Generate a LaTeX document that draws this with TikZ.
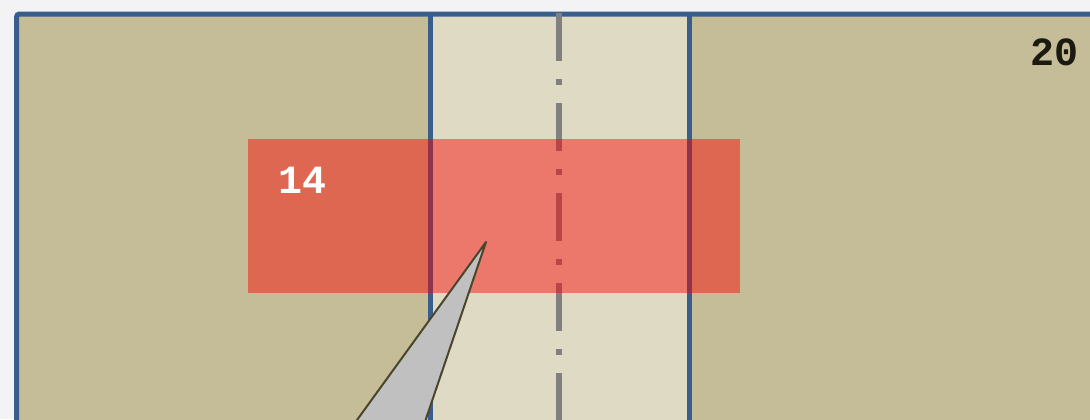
\documentclass[tikz,border=0pt]{standalone}
\usepackage{fontspec}
\setmonofont{Liberation Mono}
\definecolor{bgpage}{RGB}{243,243,245}
\definecolor{fieldtan}{RGB}{196,189,151}
\definecolor{stripbeige}{RGB}{222,218,195}
\definecolor{edgeblue}{RGB}{58,94,140}
\definecolor{axisgray}{RGB}{128,128,128}
\definecolor{pointerfill}{RGB}{192,192,192}
\definecolor{pointerline}{RGB}{74,70,44}
\definecolor{labelink}{RGB}{26,26,16}
\begin{document}
\begin{tikzpicture}[x=0.5pt, y=-0.5pt,
    edge/.style={draw=edgeblue, line width=2.5pt},
    axisline/.style={draw=axisgray, line width=3pt,
      dash pattern=on 24pt off 9pt on 3pt off 9pt},
    zone/.style={fill=red, fill opacity=0.45},
    pointer/.style={fill=pointerfill, draw=pointerline, line width=1pt, line join=round},
    numlabel/.style={font=\ttfamily\bfseries\fontsize{20}{24}\selectfont, inner sep=0pt, anchor=base west}]
    % canvas
    \useasboundingbox (0,0) rectangle (1090,419);
    \clip (0,0) rectangle (1090,419);
    \fill[bgpage] (0,0) rectangle (1090,419);
    % field and middle strip
    \fill[fieldtan] (16.5,14) rectangle (1200,600);
    \fill[stripbeige] (430,14) rectangle (689,600);
    \draw[edge] (430,14) -- (430,600);
    \draw[edge] (689,14) -- (689,600);
    \draw[edge, rounded corners=1.5pt] (16.5,600) -- (16.5,14) -- (1200,14);
    % centre line
    \draw[axisline] (559,13) -- (559,600);
    % highlighted zone
    \fill[zone] (248,139) rectangle (740,293);
    \node[numlabel, text=white] (zonelabel) at (278,193) {14};
    \node[numlabel, text=labelink] (fieldlabel) at (1030,65) {20};
    % pointer
    \draw[pointer] (486,242) -- (328,460) -- (412,460) -- cycle;
\end{tikzpicture}
\end{document}
